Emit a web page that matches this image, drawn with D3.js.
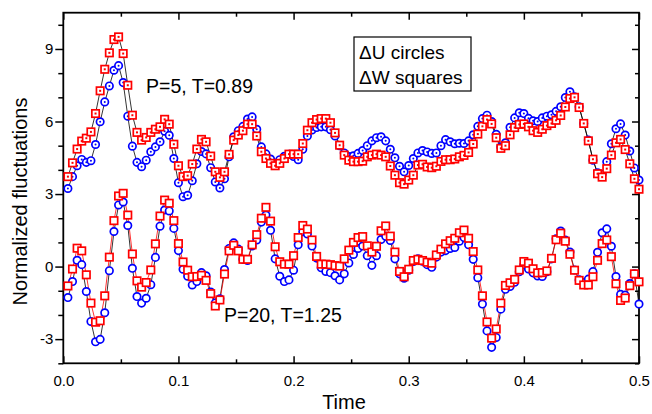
<!DOCTYPE html>
<html><head><meta charset="utf-8">
<script src="https://cdn.jsdelivr.net/npm/d3@7"></script>
<style>body{margin:0;background:#fff}svg{display:block}text{font-family:Arial,"Liberation Sans",sans-serif;fill:#000}</style>
</head><body><svg id="chart" width="652" height="414"></svg>
<script>
const xTicks = [0, 0.1, 0.2, 0.3, 0.4, 0.5];
const xTickLabels = ["0.0", "0.1", "0.2", "0.3", "0.4", "0.5"];
const xMinor = [0.05, 0.15, 0.25, 0.35, 0.45];
const yTicks = [-3, 0, 3, 6, 9];
const yTickLabels = ["-3", "0", "3", "6", "9"];
const yMinor = [-4, -2, -1, 1, 2, 4, 5, 7, 8, 10];
const dt = 0.004;

// P=5, T=0.89 : dU (circles) and dW (squares)
const U5 = [3.23,3.72,4.17,4.43,4.31,4.38,5.05,5.99,6.81,7.47,
8.12,8.31,7.61,6.22,4.98,4.31,4.13,4.40,4.75,4.95,
5.16,5.60,5.43,4.47,3.47,2.89,2.95,3.55,4.25,4.76,
4.66,4.09,3.50,3.25,3.63,4.54,5.37,5.62,5.80,6.10,
6.19,5.68,4.95,4.66,4.45,4.27,4.42,4.56,4.64,4.55,
4.42,4.85,5.40,5.65,5.75,5.78,5.78,5.66,5.40,5.00,
4.70,4.55,4.58,4.68,4.80,5.00,5.20,5.33,5.37,5.20,
4.85,4.50,4.15,3.92,4.18,4.47,4.70,4.80,4.74,4.68,
4.70,5.00,5.25,5.16,5.08,5.10,5.09,5.20,5.45,5.80,
6.12,6.26,6.00,5.47,4.95,5.12,5.76,6.15,6.36,6.33,
6.13,6.03,6.00,6.15,6.22,6.28,6.42,6.61,6.99,7.23,
7.02,6.61,5.92,5.23,4.40,3.88,3.82,4.34,5.08,5.70,
5.90,5.44,4.78,4.08,3.58];
const W5 = [3.72,4.29,4.86,5.19,5.31,5.57,6.33,7.27,8.16,8.84,
9.39,9.50,8.81,7.50,6.26,5.55,5.23,5.34,5.55,5.68,
5.78,6.09,5.89,5.06,4.17,3.72,3.76,4.24,4.86,5.26,
5.16,4.57,3.92,3.69,3.92,4.64,5.23,5.44,5.62,5.89,
5.89,5.40,4.75,4.47,4.27,4.17,4.27,4.47,4.65,4.65,
4.65,5.09,5.64,5.95,6.08,6.12,6.12,5.95,5.53,5.02,
4.61,4.40,4.34,4.34,4.36,4.54,4.61,4.65,4.61,4.54,
4.16,3.78,3.47,3.41,3.58,3.78,4.20,4.23,4.12,4.09,
4.15,4.35,4.42,4.42,4.45,4.54,4.60,4.72,5.07,5.48,
5.80,6.08,5.90,5.33,4.89,5.00,5.45,5.75,5.88,5.90,
5.78,5.62,5.55,5.68,5.83,5.92,6.05,6.25,6.60,6.95,
7.00,6.58,5.92,5.20,4.44,3.84,3.70,4.05,4.61,5.12,
5.26,4.84,4.25,3.63,3.20];
// P=20, T=1.25
const U20 = [-1.28,-0.62,0.26,0.08,-1.03,-2.27,-3.11,-3.01,-1.91,-0.17,
1.45,2.55,2.67,1.70,-0.07,-1.24,-1.51,-1.31,-0.75,0.38,
1.67,2.34,2.30,1.58,0.66,-0.11,-0.40,-0.76,-0.62,-0.25,
-0.38,-1.05,-1.50,-1.33,-0.12,0.75,0.98,0.72,0.30,0.25,
0.85,1.10,1.84,2.13,1.50,0.32,-0.40,-0.62,-0.55,-0.15,
0.90,1.44,1.35,0.85,0.35,-0.05,-0.20,-0.25,-0.38,-0.55,
-0.30,0.15,0.50,0.75,0.85,0.45,0.05,0.45,1.12,1.25,
1.08,0.32,-0.30,-0.48,-0.15,0.21,0.32,0.22,0.08,-0.03,
0.39,0.60,0.66,0.75,0.79,1.05,1.20,0.90,0.30,-0.46,
-1.55,-2.66,-3.34,-2.93,-1.76,-0.94,-0.82,-0.65,-0.21,0.07,
-0.10,-0.26,-0.39,-0.41,-0.21,0.32,1.15,1.47,1.10,0.60,
-0.14,-0.55,-0.66,-0.52,-0.21,0.59,1.40,1.56,0.84,-0.41,
-1.15,-1.18,-0.70,-0.30,-1.55];
const W20 = [-0.80,-0.10,0.76,0.65,-0.34,-1.51,-2.30,-2.24,-1.21,0.39,
1.90,2.92,3.03,2.13,0.52,-0.59,-0.85,-0.66,-0.14,0.94,
2.09,2.75,2.62,1.90,0.95,0.19,-0.15,-0.42,-0.41,-0.36,
-0.57,-1.12,-1.63,-1.38,-0.31,0.65,0.88,0.65,0.30,0.30,
0.90,1.32,2.00,2.45,1.88,0.82,0.20,0.10,0.10,0.45,
1.20,1.70,1.55,1.10,0.42,0.10,0.10,0.08,0.04,0.02,
0.32,0.68,1.00,1.20,1.24,0.86,0.60,0.84,1.48,1.68,
1.26,0.60,-0.20,-0.42,-0.11,0.25,0.30,0.25,0.18,0.14,
0.48,0.72,0.94,1.07,1.17,1.40,1.51,1.17,0.62,-0.14,
-1.21,-2.29,-2.96,-2.58,-1.51,-0.78,-0.67,-0.53,-0.14,0.21,
0.14,-0.09,-0.26,-0.25,-0.18,0.34,1.11,1.38,1.05,0.51,
-0.15,-0.57,-0.76,-0.76,-0.42,0.26,0.95,1.10,0.41,-0.71,
-1.40,-1.30,-0.79,-0.30,-0.63];
const time = U5.map((_, i) => +((i + 1) * dt).toFixed(3));

const svg = d3.select("#chart");
const L = 63.3, R = 639, T = 12.7, B = 363.3;
const x = d3.scaleLinear().domain([0, 0.5]).range([L, R]);
const y = d3.scaleLinear().domain([-4, 10.5]).range([B, T]);

function styleAxis(g) {
  g.select(".domain").remove();
  g.selectAll(".tick line").attr("stroke", "#000").attr("stroke-width", 1.5);
  g.selectAll(".tick text").attr("font-size", 15).attr("font-family", "Arial, 'Liberation Sans', sans-serif").attr("fill", "#000");
}
// bottom
svg.append("g").attr("transform", `translate(0,${B})`)
  .call(d3.axisBottom(x).tickValues(xTicks).tickFormat((d, i) => xTickLabels[i]).tickSizeInner(-7).tickSizeOuter(0).tickPadding(12))
  .call(styleAxis);
svg.append("g").attr("transform", `translate(0,${B})`)
  .call(d3.axisBottom(x).tickValues(xMinor).tickFormat("").tickSizeInner(-4).tickSizeOuter(0))
  .call(styleAxis);
// top
svg.append("g").attr("transform", `translate(0,${T})`)
  .call(d3.axisTop(x).tickValues(xTicks).tickFormat("").tickSizeInner(-7).tickSizeOuter(0)).call(styleAxis);
svg.append("g").attr("transform", `translate(0,${T})`)
  .call(d3.axisTop(x).tickValues(xMinor).tickFormat("").tickSizeInner(-4).tickSizeOuter(0)).call(styleAxis);
// left
svg.append("g").attr("transform", `translate(${L},0)`)
  .call(d3.axisLeft(y).tickValues(yTicks).tickFormat((d, i) => yTickLabels[i]).tickSizeInner(8).tickSizeOuter(0).tickPadding(2))
  .call(styleAxis);
svg.append("g").attr("transform", `translate(${L},0)`)
  .call(d3.axisLeft(y).tickValues(yMinor).tickFormat("").tickSizeInner(5).tickSizeOuter(0)).call(styleAxis);
// right
svg.append("g").attr("transform", `translate(${R},0)`)
  .call(d3.axisRight(y).tickValues(yTicks).tickFormat("").tickSizeInner(-7).tickSizeOuter(0)).call(styleAxis);
svg.append("g").attr("transform", `translate(${R},0)`)
  .call(d3.axisRight(y).tickValues(yMinor).tickFormat("").tickSizeInner(-4).tickSizeOuter(0)).call(styleAxis);

// frame
svg.append("rect").attr("x", L).attr("y", T).attr("width", R - L).attr("height", B - T)
  .attr("fill", "none").attr("stroke", "#000").attr("stroke-width", 1.8);

const blue = "#0000ff", red = "#ff0000";
const line = d3.line().x((d, i) => x(time[i])).y(d => y(d));
const plot = svg.append("g");

function drawLine(vals, color) {
  plot.append("path").datum(vals).attr("d", line).attr("fill", "none")
    .attr("stroke", color).attr("stroke-width", 0.8);
}
drawLine(U5, "#000"); drawLine(W5, "#000");
drawLine(U20, "#000"); drawLine(W20, red);

function circles(vals, dot) {
  const g = plot.append("g");
  g.selectAll("circle.m").data(vals).join("circle").attr("class", "m")
    .attr("cx", (d, i) => x(time[i])).attr("cy", d => y(d)).attr("r", 3.7)
    .attr("fill", "#fff").attr("stroke", blue).attr("stroke-width", 1.7);
  if (dot) g.selectAll("circle.d").data(vals).join("circle").attr("class", "d")
    .attr("cx", (d, i) => x(time[i])).attr("cy", d => y(d)).attr("r", 1).attr("fill", blue);
}
function squares(vals, dot) {
  const s = 7.4;
  const g = plot.append("g");
  g.selectAll("rect.m").data(vals).join("rect").attr("class", "m")
    .attr("x", (d, i) => x(time[i]) - s / 2).attr("y", d => y(d) - s / 2)
    .attr("width", s).attr("height", s)
    .attr("fill", "#fff").attr("stroke", red).attr("stroke-width", 1.7);
  if (dot) g.selectAll("rect.d").data(vals).join("rect").attr("class", "d")
    .attr("x", (d, i) => x(time[i]) - 1).attr("y", d => y(d) - 1)
    .attr("width", 2).attr("height", 2).attr("fill", red);
}
circles(U5, true);
circles(U20, false);
squares(W5, true);
squares(W20, false);

// annotations
svg.append("text").attr("x", 146).attr("y", 93).attr("font-size", 19.5).text("P=5, T=0.89");
svg.append("text").attr("x", 224).attr("y", 322).attr("font-size", 19.5).text("P=20, T=1.25");

// legend box
svg.append("rect").attr("x", 354).attr("y", 37).attr("width", 117).attr("height", 54)
  .attr("fill", "#fff").attr("stroke", "#000").attr("stroke-width", 1.2);
svg.append("text").attr("x", 359).attr("y", 59).attr("font-size", 19).text("\u0394U circles");
svg.append("text").attr("x", 359).attr("y", 84).attr("font-size", 19).text("\u0394W squares");

// axis titles
svg.append("text").attr("x", 344).attr("y", 409).attr("text-anchor", "middle").attr("font-size", 20).text("Time");
svg.append("text").attr("transform", "translate(27,201.5) rotate(-90)").attr("text-anchor", "middle")
  .attr("font-size", 20).text("Normalized fluctuations");
</script></body></html>
